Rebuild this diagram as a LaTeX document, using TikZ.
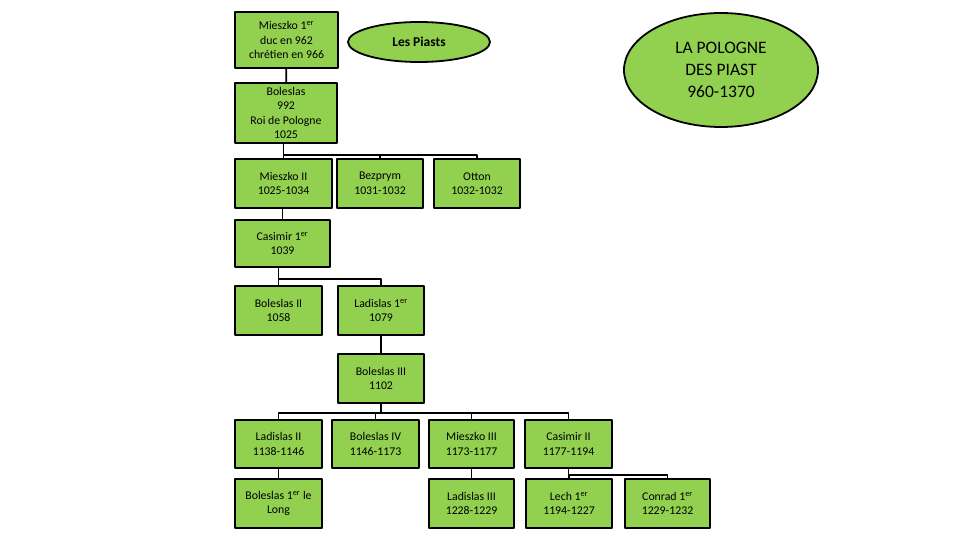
\documentclass[tikz,border=0pt]{standalone}
\usepackage{fontspec}
\setmainfont{Carlito}
\usetikzlibrary{shapes.geometric}
\definecolor{piastgreen}{HTML}{92D050}
\begin{document}
\begin{tikzpicture}[x=1pt, y=-1pt, line join=round, line cap=round,
	font=\fontsize{11.8}{14.5}\selectfont,
	box/.style={draw, fill=piastgreen, line width=1.8pt, align=center, inner sep=0pt,
		minimum width=86pt, minimum height=49pt},
	oval/.style={draw, fill=piastgreen, line width=1.8pt, ellipse, align=center, inner sep=0pt},
	link/.style={line width=1.8pt}]
	\useasboundingbox (0,0) rectangle (960,540);
	\def\er{\textsuperscript{er}}
	% titres
	\node[oval, minimum width=142pt, minimum height=40pt, font=\bfseries\fontsize{13.5}{16}\selectfont] (piasts) at (419,42) {Les Piasts};
	\node[oval, minimum width=194pt, minimum height=114pt, font=\fontsize{17.5}{22}\selectfont] (titre) at (721,70) {LA POLOGNE\\DES PIAST\\960-1370};
	% generations
	\node[box, minimum width=103pt, minimum height=56pt] (mieszkoI) at (286.5,40) {Mieszko 1\er\\duc en 962\\chrétien en 966};
	\node[box, minimum width=102pt, minimum height=60pt] (boleslasI) at (286,113) {Boleslas\\992\\Roi de Pologne\\1025};
	\node[box, minimum width=97pt] (mieszkoII) at (283.5,183.5) {Mieszko II\\1025-1034};
	\node[box] (bezprym) at (380,183.5) {Bezprym\\1031-1032};
	\node[box] (otton) at (477,183.5) {Otton\\1032-1032};
	\node[box, minimum width=95pt, minimum height=47pt] (casimirI) at (282.5,243.5) {Casimir 1\er\\1039};
	\node[box, minimum width=87pt] (boleslasII) at (278.5,310.5) {Boleslas II\\1058};
	\node[box] (ladislasI) at (381,310.5) {Ladislas 1\er\\1079};
	\node[box] (boleslasIII) at (381,378.5) {Boleslas III\\1102};
	\node[box, minimum width=87pt, minimum height=48pt] (ladislasII) at (278.5,444) {Ladislas II\\1138-1146};
	\node[box, minimum width=87pt, minimum height=48pt] (boleslasIV) at (375.5,444) {Boleslas IV\\1146-1173};
	\node[box, minimum width=85pt, minimum height=48pt] (mieszkoIII) at (471.5,444) {Mieszko III\\1173-1177};
	\node[box, minimum width=87pt, minimum height=48pt] (casimirII) at (568.5,444) {Casimir II\\1177-1194};
	\node[box, minimum width=87pt] (boleslasLong) at (278.5,503.5) {Boleslas 1\er{} le\\Long};
	\node[box, minimum width=85pt] (ladislasIII) at (471.5,503.5) {Ladislas III\\1228-1229};
	\node[box] (lech) at (569,503.5) {Lech 1\er\\1194-1227};
	\node[box, minimum width=85pt] (conrad) at (667.5,503.5) {Conrad 1\er\\1229-1232};
	% liens
	\draw[link] (mieszkoI) -- (boleslasI);
	\foreach \fils in {mieszkoII,bezprym,otton}
		\draw[link] (boleslasI.south -| mieszkoII.north) -- ++(0,11) -| (\fils.north);
	\draw[link] (mieszkoII.south -| casimirI.north) -- (casimirI.north);
	\foreach \fils in {boleslasII,ladislasI}
		\draw[link] (casimirI.south -| boleslasII.north) -- ++(0,11) -| (\fils.north);
	\draw[link] (ladislasI) -- (boleslasIII);
	\foreach \fils in {ladislasII,boleslasIV,mieszkoIII,casimirII}
		\draw[link] (boleslasIII.south) -- ++(0,9) -| (\fils.north);
	\draw[link] (ladislasII) -- (boleslasLong);
	\draw[link] (mieszkoIII) -- (ladislasIII);
	\foreach \fils in {lech,conrad}
		\draw[link] (casimirII.south) -- ++(0,6) -| (\fils.north);
\end{tikzpicture}
\end{document}
